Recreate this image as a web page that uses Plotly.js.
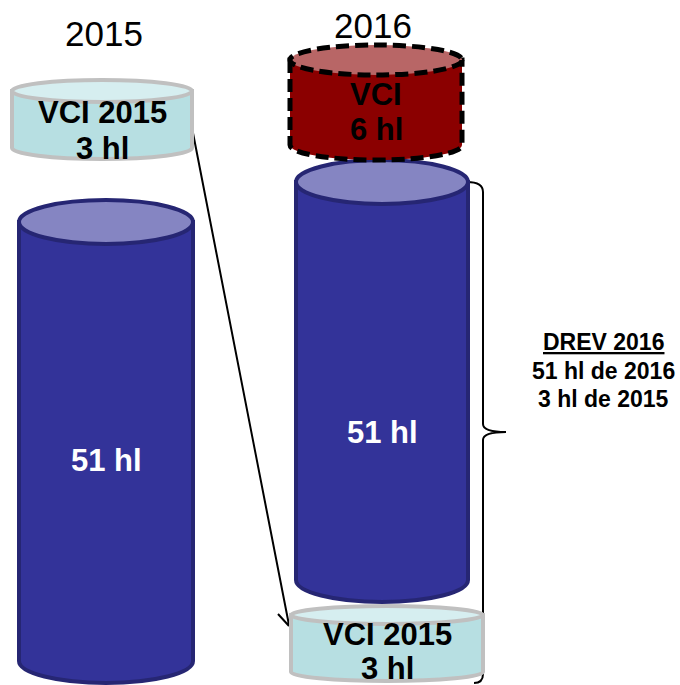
<!DOCTYPE html>
<html>
<head>
<meta charset="utf-8">
<script src="https://cdn.plot.ly/plotly-3.0.1.min.js"></script>
<style>html,body{margin:0;padding:0;background:#fff;}#chart{width:680px;height:685px;}</style>
</head>
<body>
<div id="chart"></div>
<script>
// ---- data ----
const years = ['2015', '2016'];
const stockLabels = ['51 hl', '51 hl'];          // stock cylinders 2015 / 2016
const vciTitles = ['VCI 2015', 'VCI', 'VCI 2015']; // VCI cylinders
const vciVolumes = ['3 hl', '6 hl', '3 hl'];
const drevLines = ['DREV 2016', '51 hl de 2016', '3 hl de 2015'];

// ---- geometry / styles (layout only) ----
const FONT = 'Liberation Sans, Arial, Helvetica, sans-serif';
const styles = {
  stock: {body: '#333399', top: '#8585c2', line: '#262673', width: 4, dash: 'solid', text: '#ffffff'},
  vci15: {body: '#b7dfe2', top: '#d6eef0', line: '#c0c0c0', width: 4, dash: 'solid', text: '#000000'},
  vci16: {body: '#8b0000', top: '#b86666', line: '#000000', width: 5, dash: '13px,6px', text: '#000000'}
};
const stockGeom = [
  {cx: 106, rx: 87, top: 222, bottom: 661, ry: 22, ty: 460},
  {cx: 382, rx: 86, top: 182, bottom: 580, ry: 22, ty: 432}
];
const vciGeom = [
  {cx: 102, rx: 90, top: 91, bottom: 148, ry: 11, style: 'vci15', t1: 112, t2: 148},
  {cx: 376, rx: 86, top: 60, bottom: 145, ry: 15, style: 'vci16', t1: 94, t2: 129},
  {cx: 387, rx: 96, top: 615, bottom: 672, ry: 9, style: 'vci15', t1: 634, t2: 668}
];

function bodyPath(g) {
  const k = 0.5523;
  const L = g.cx - g.rx, R = g.cx + g.rx, yb = g.bottom;
  return `M${L},${g.top} L${L},${yb} C${L},${yb + k * g.ry} ${g.cx - k * g.rx},${yb + g.ry} ${g.cx},${yb + g.ry} ` +
         `C${g.cx + k * g.rx},${yb + g.ry} ${R},${yb + k * g.ry} ${R},${yb} L${R},${g.top} Z`;
}
function cylinder(g, s) {
  return [
    {type: 'path', xref: 'x', yref: 'y', path: bodyPath(g), fillcolor: s.body,
     line: {color: s.line, width: s.width, dash: s.dash}},
    {type: 'circle', xref: 'x', yref: 'y', x0: g.cx - g.rx, x1: g.cx + g.rx, y0: g.top - g.ry, y1: g.top + g.ry,
     fillcolor: s.top, line: {color: s.line, width: s.width, dash: s.dash}}
  ];
}

const shapes = [];
// connector from VCI 2015 (2015) to VCI 2015 (2016)
shapes.push({type: 'path', xref: 'x', yref: 'y', path: 'M193,133 L289,625 M278,614 L289,626',
             line: {color: '#000', width: 2}});
// brace
shapes.push({type: 'path', xref: 'x', yref: 'y',
  path: 'M467,182 Q483,182 483,192 L483,424 Q483,432 506,432 Q483,432 483,440 L483,674 Q483,683 474,683',
  line: {color: '#000', width: 2}});

stockGeom.forEach(g => shapes.push(...cylinder(g, styles.stock)));
vciGeom.forEach(g => shapes.push(...cylinder(g, styles[g.style])));

const annotations = [];
const yearPos = [{x: 104, y: 33}, {x: 373, y: 25}];
years.forEach((t, i) => annotations.push({x: yearPos[i].x, y: yearPos[i].y, text: t,
  font: {family: FONT, size: 35, color: '#000'}}));
stockLabels.forEach((t, i) => annotations.push({x: stockGeom[i].cx, y: stockGeom[i].ty, text: '<b>' + t + '</b>',
  font: {family: FONT, size: 31, color: styles.stock.text}}));
vciTitles.forEach((t, i) => {
  const g = vciGeom[i];
  annotations.push({x: g.cx, y: g.t1, text: '<b>' + t + '</b>', font: {family: FONT, size: 31, color: '#000'}});
  annotations.push({x: g.cx, y: g.t2, text: '<b>' + vciVolumes[i] + '</b>', font: {family: FONT, size: 31, color: '#000'}});
});
const drevY = [342, 371, 399];
drevLines.forEach((t, i) => annotations.push({x: 603, y: drevY[i],
  text: i === 0 ? '<b><span style="text-decoration:underline">' + t + '</span></b>' : '<b>' + t + '</b>',
  font: {family: FONT, size: 23, color: '#000'}}));
annotations.forEach(a => Object.assign(a, {xref: 'x', yref: 'y', showarrow: false, xanchor: 'center', yanchor: 'middle'}));

const layout = {
  width: 680, height: 685,
  margin: {l: 0, r: 0, t: 0, b: 0, pad: 0},
  paper_bgcolor: '#fff', plot_bgcolor: '#fff',
  showlegend: false,
  xaxis: {range: [0, 680], visible: false, fixedrange: true},
  yaxis: {range: [685, 0], visible: false, fixedrange: true},
  shapes: shapes,
  annotations: annotations
};
Plotly.newPlot('chart', [{x: [], y: [], type: 'scatter', hoverinfo: 'skip'}], layout,
  {displayModeBar: false, staticPlot: true});
</script>
</body>
</html>
